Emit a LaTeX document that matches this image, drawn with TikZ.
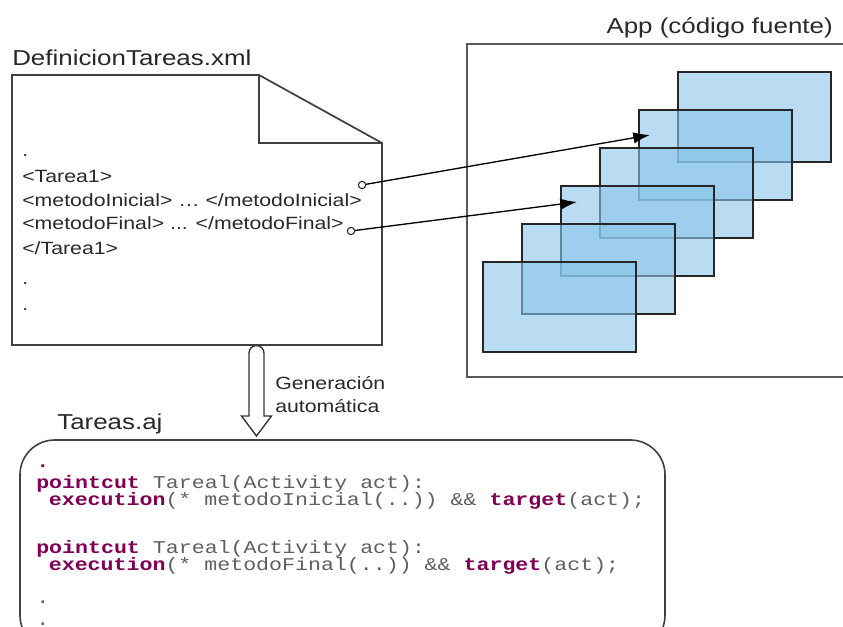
\documentclass[tikz,border=0pt]{standalone}
\usepackage{fontspec}
\usepackage{tikz}
\usetikzlibrary{arrows.meta}
\setmainfont{Liberation Sans}[FakeStretch=1.2]
\setmonofont{Liberation Mono}[FakeStretch=1.2]

\definecolor{slideblue}{RGB}{138,197,233}
\definecolor{kwpurple}{RGB}{127,0,85}
\definecolor{codegray}{RGB}{95,95,95}
\definecolor{inkgray}{RGB}{40,40,40}
\newcommand{\bigsans}{\fontsize{16.2}{19}\selectfont}
\newcommand{\smallsans}{\fontsize{13.3}{16}\selectfont}
\newcommand{\codefont}{\ttfamily\fontsize{13.5}{16}\selectfont}
\newcommand{\kw}[1]{\textcolor{kwpurple}{\textbf{#1}}}

\tikzset{
  doc/.style={draw=black!75, line width=1.3pt, line join=miter},
  title/.style={font=\bigsans, text=inkgray, inner sep=0},
  xmlline/.style={anchor=base west, font=\smallsans, text=inkgray, inner sep=0},
  codeline/.style={anchor=base west, font=\codefont, text=codegray, inner sep=0},
  slide/.style={draw=black!85, line width=1.1pt, fill=slideblue, fill opacity=0.6,
    minimum width=114.75pt, minimum height=67.5pt, inner sep=0},
  port/.style={circle, draw=black!85, fill=white, line width=0.8pt, inner sep=0, minimum size=5.5pt},
  link/.style={draw=black, line width=1pt, -{Latex[length=12.5pt,width=8.5pt]}},
}

\begin{document}
\begin{tikzpicture}[x=0.75pt,y=-0.75pt]
\useasboundingbox (0,0) rectangle (843,627);

% xml file
\node[title, anchor=base west] (xmltitle) at (12,66) {DefinicionTareas.xml};
\draw[doc] (12,75) -- (259,75) -- (382,143) -- (382,345) -- (12,345) -- cycle;
\draw[doc] (259,75) |- (382,143);
\node[xmlline] (x0) at (22,157) {.};
\node[xmlline] (x1) at (22,183) {<Tarea1>};
\node[xmlline] (x2) at (22,207) {<metodoInicial> … </metodoInicial>};
\node[xmlline] (x3) at (22,230) {<metodoFinal> ... </metodoFinal>};
\node[xmlline] (x4) at (22,255) {</Tarea1>};
\node[xmlline] (x5) at (22,285) {.};
\node[xmlline] (x6) at (22,311) {.};

% app
\node[title, anchor=base east] (apptitle) at (833,34) {App (código fuente)};
\draw[draw=black!65, line width=1.6pt] (467,44) rectangle (870,377);
\foreach \k in {6,...,1}
  \node[slide] (slide\k) at ({559.5+39*(\k-1)},{307-38*(\k-1)}) {};

\node[port] (p1) at (362,185) {};
\node[port] (p2) at (351,231) {};
\coordinate (t1) at (650,135);
\coordinate (t2) at (577,202);
\draw[link] (p1) -- (t1);
\draw[link] (p2) -- (t2);

% generation arrow
\draw[draw=black!80, line width=1pt, fill=white]
  (249,416) -- (249,353) arc[start angle=180, end angle=0, radius=5.6pt]
  -- (264,416) -- (271.5,416) -- (256.5,436) -- (241.5,416) -- cycle;
\node[xmlline] (gen1) at (275,390) {Generación};
\node[xmlline] (gen2) at (275,412) {automática};

% aspect file
\node[title, anchor=base west] (ajtitle) at (57,430) {Tareas.aj};
\draw[draw=black!75, line width=1.2pt, rounded corners=26pt] (20,440) rectangle (665,650);
\node[codeline] (c0) at (36,467) {\kw{.}};
\node[codeline] (c1) at (36,488) {\kw{pointcut} Tareal(Activity act):};
\node[codeline] (c2) at (48.6,505) {\kw{execution}(* metodoInicial(..)) \&\& \kw{target}(act);};
\node[codeline] (c3) at (36,553) {\kw{pointcut} Tareal(Activity act):};
\node[codeline] (c4) at (48.6,570) {\kw{execution}(* metodoFinal(..)) \&\& \kw{target}(act);};
\node[codeline] (c5) at (36,603) {.};
\node[codeline] (c6) at (36,625) {.};
\end{tikzpicture}
\end{document}
